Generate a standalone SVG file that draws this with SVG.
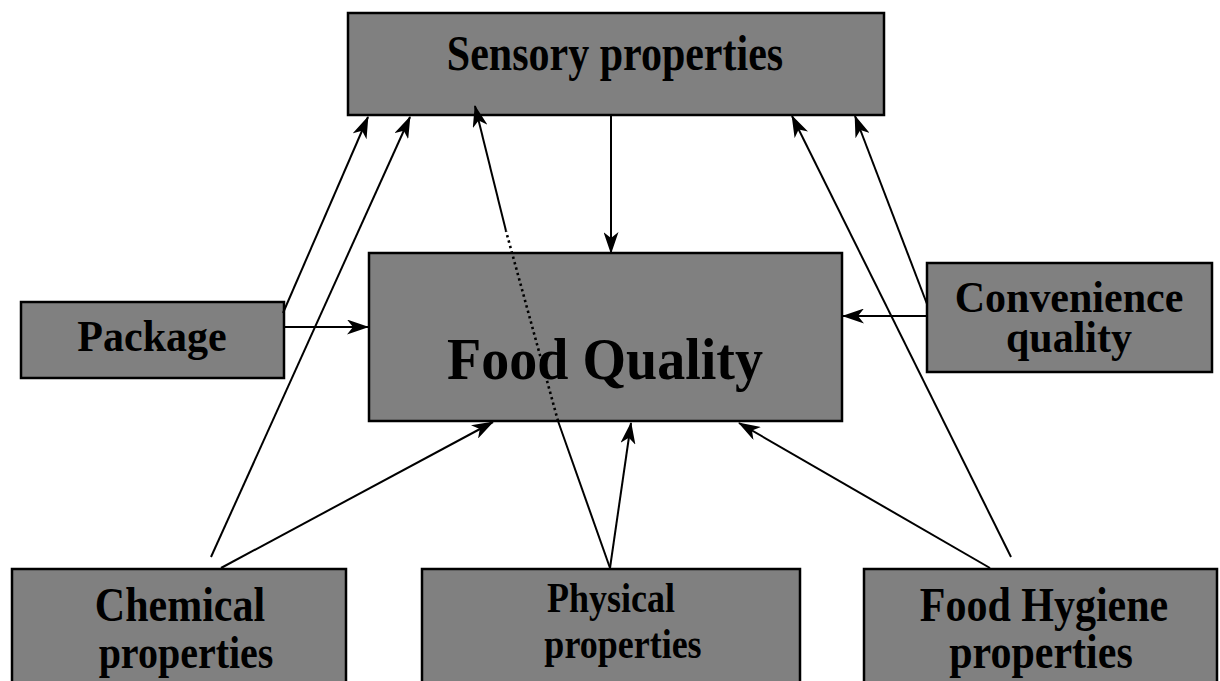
<svg xmlns="http://www.w3.org/2000/svg" width="1220" height="681" viewBox="0 0 1220 681">
  <style>
    .box { fill: #808080; stroke: #000; stroke-width: 2.5; }
    .lbl { font-family: "Liberation Serif", "Times New Roman", serif; font-weight: bold; fill: #000; text-anchor: middle; }
    .edge { stroke: #000; stroke-width: 2; fill: none; }
    .dots { stroke: #000; stroke-width: 2.6; fill: none; stroke-dasharray: 2.4 3.2; }
  </style>
  <defs>
    <marker id="arrow" markerUnits="userSpaceOnUse" viewBox="0 0 22 15" refX="21" refY="7.5" markerWidth="22" markerHeight="15" orient="auto">
      <path d="M0,0 L22,7.5 L0,15 L6,7.5 Z" fill="#000"/>
    </marker>
  </defs>
  <rect width="1220" height="681" fill="#fff"/>

  <g id="sensory">
    <rect class="box" x="348" y="13" width="536" height="102"/>
    <text class="lbl" font-size="42" transform="translate(615,70) scale(1,1.2)">Sensory properties</text>
  </g>

  <g id="food-quality">
    <rect class="box" x="369" y="253" width="473" height="168"/>
    <text class="lbl" font-size="56" transform="translate(605,379) scale(1,1.05)">Food Quality</text>
  </g>

  <g id="package">
    <rect class="box" x="21" y="302" width="263" height="76"/>
    <text class="lbl" font-size="42" transform="translate(152,351) scale(1,1.05)">Package</text>
  </g>

  <g id="convenience">
    <rect class="box" x="927" y="263" width="285" height="109"/>
    <text class="lbl" font-size="42" transform="translate(1069,312) scale(1,1.05)">Convenience</text>
    <text class="lbl" font-size="42" transform="translate(1069,352) scale(1,1.05)">quality</text>
  </g>

  <g id="chemical">
    <rect class="box" x="12" y="569" width="334" height="130"/>
    <text class="lbl" font-size="42" transform="translate(180,621) scale(1,1.15)">Chemical</text>
    <text class="lbl" font-size="40" transform="translate(186,668) scale(1,1.15)">properties</text>
  </g>

  <g id="physical">
    <rect class="box" x="422" y="569" width="378" height="130"/>
    <text class="lbl" font-size="36" transform="translate(611,612) scale(1,1.15)">Physical</text>
    <text class="lbl" font-size="36" transform="translate(623,658) scale(1,1.15)">properties</text>
  </g>

  <g id="hygiene">
    <rect class="box" x="864" y="569" width="353" height="130"/>
    <text class="lbl" font-size="42" transform="translate(1044,621) scale(1,1.15)">Food Hygiene</text>
    <text class="lbl" font-size="42" transform="translate(1041,668) scale(1,1.15)">properties</text>
  </g>

  <!-- connectors, drawn over the boxes so the dotted run shows across Food Quality -->
  <g id="connectors">
    <line class="edge" x1="283" y1="313" x2="368" y2="117" marker-end="url(#arrow)"/>
    <line class="edge" x1="211" y1="557" x2="410" y2="117" marker-end="url(#arrow)"/>
    <line class="edge" x1="610" y1="568" x2="558" y2="421"/>
    <line class="dots" x1="558" y1="421" x2="506" y2="231"/>
    <line class="edge" x1="506" y1="231" x2="475" y2="106" marker-end="url(#arrow)"/>
    <line class="edge" x1="1011" y1="557" x2="792" y2="116" marker-end="url(#arrow)"/>
    <line class="edge" x1="927" y1="304" x2="855" y2="116" marker-end="url(#arrow)"/>
    <line class="edge" x1="611" y1="115" x2="611" y2="253" marker-end="url(#arrow)"/>
    <line class="edge" x1="284" y1="327" x2="368" y2="327" marker-end="url(#arrow)"/>
    <line class="edge" x1="927" y1="316" x2="843" y2="316" marker-end="url(#arrow)"/>
    <line class="edge" x1="221" y1="568" x2="493" y2="422" marker-end="url(#arrow)"/>
    <line class="edge" x1="610" y1="568" x2="631" y2="423" marker-end="url(#arrow)"/>
    <line class="edge" x1="990" y1="568" x2="739" y2="423" marker-end="url(#arrow)"/>
  </g>
</svg>
